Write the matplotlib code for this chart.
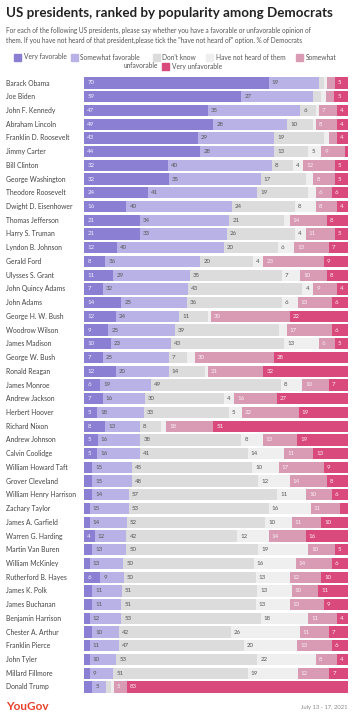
import numpy as np
import matplotlib
matplotlib.use("Agg")
import matplotlib.pyplot as plt
from matplotlib.patches import Rectangle

plt.rcParams['font.family'] = ['Lato', 'DejaVu Sans']

# data: % of Democrats
presidents = [
    "Barack Obama", "Joe Biden", "John F. Kennedy", "Abraham Lincoln",
    "Franklin D. Roosevelt", "Jimmy Carter", "Bill Clinton", "George Washington",
    "Theodore Roosevelt", "Dwight D. Eisenhower", "Thomas Jefferson", "Harry S. Truman",
    "Lyndon B. Johnson", "Gerald Ford", "Ulysses S. Grant", "John Quincy Adams",
    "John Adams", "George H. W. Bush", "Woodrow Wilson", "James Madison",
    "George W. Bush", "Ronald Reagan", "James Monroe", "Andrew Jackson",
    "Herbert Hoover", "Richard Nixon", "Andrew Johnson", "Calvin Coolidge",
    "William Howard Taft", "Grover Cleveland", "William Henry Harrison", "Zachary Taylor",
    "James A. Garfield", "Warren G. Harding", "Martin Van Buren", "William McKinley",
    "Rutherford B. Hayes", "James K. Polk", "James Buchanan", "Benjamin Harrison",
    "Chester A. Arthur", "Franklin Pierce", "John Tyler", "Millard Fillmore",
    "Donald Trump",
]
very_fav = [70, 59, 47, 49, 43, 44, 32, 32, 24, 16, 21, 21, 12, 8, 11, 7, 14, 12, 9, 10,
            7, 12, 6, 7, 5, 8, 5, 5, 3, 3, 3, 2, 2, 4, 3, 2, 6, 3, 3, 2, 3, 2, 2, 2, 3]
some_fav = [19, 27, 35, 28, 29, 28, 40, 35, 41, 40, 34, 33, 40, 36, 29, 32, 25, 24, 25, 23,
            25, 20, 19, 16, 18, 13, 16, 16, 15, 15, 14, 15, 14, 12, 13, 13, 9, 11, 11, 12,
            10, 11, 10, 9, 5]
dont_know = [2, 3, 6, 10, 19, 13, 8, 17, 19, 24, 21, 26, 20, 20, 35, 43, 36, 11, 39, 43,
             7, 14, 49, 30, 33, 8, 38, 41, 45, 48, 57, 53, 52, 42, 50, 50, 50, 51, 51, 53,
             42, 47, 53, 51, 2]
not_heard = [1, 2, 1, 1, 2, 5, 4, 3, 3, 8, 2, 4, 6, 4, 7, 4, 6, 1, 3, 13,
             3, 1, 8, 4, 5, 2, 8, 14, 10, 12, 11, 16, 10, 12, 19, 16, 13, 13, 13, 18,
             26, 20, 22, 19, 1]
some_unfav = [3, 3, 7, 8, 3, 9, 12, 8, 6, 8, 14, 11, 13, 23, 10, 9, 13, 30, 17, 6,
              30, 21, 10, 16, 22, 18, 13, 11, 17, 14, 10, 11, 11, 14, 10, 14, 12, 10, 13, 11,
              11, 13, 8, 12, 5]
very_unfav = [5, 5, 4, 4, 4, 1, 5, 5, 6, 4, 8, 5, 7, 9, 8, 4, 6, 22, 6, 5,
              28, 32, 7, 27, 19, 51, 19, 13, 9, 8, 6, 3, 10, 16, 5, 6, 10, 11, 9, 4,
              7, 6, 4, 7, 83]

series = ["Very favorable", "Somewhat favorable", "Don't know",
          "Have not heard of them", "Somewhat unfavorable", "Very unfavorable"]
colors = ["#8a7fd2", "#b9b2e6", "#dcdcdc", "#efefef", "#d89bb3", "#d9497b"]
label_colors = ["#f2f0ff", "#555555", "#555555", "#555555", "#fbeef3", "#fdeef3"]

W, H = 354, 720
fig = plt.figure(figsize=(W / 100, H / 100), dpi=100)

def fx(px):
    return px / W

def fy(py):
    return 1 - py / H

vals = np.array([very_fav, some_fav, dont_know, not_heard, some_unfav, very_unfav], dtype=float).T
shares = vals / vals.sum(axis=1, keepdims=True) * 100

# bars area
row_gap = (687 - 83) / (len(presidents) - 1)
ax_top, ax_bot = 83 - row_gap / 2, 687 + row_gap / 2
ax = fig.add_axes([fx(84.3), fy(ax_bot), fx(347.7 - 84.3), (ax_bot - ax_top) / H])
y = np.arange(len(presidents))
left = np.zeros(len(presidents))
for j, name in enumerate(series):
    ax.barh(y, shares[:, j], left=left, height=0.82, color=colors[j], linewidth=0)
    for i in range(len(presidents)):
        v = vals[i, j]
        if v >= 4:
            ax.annotate(f"{int(v)}", (left[i], y[i]), xytext=(2.2, 0), textcoords="offset points",
                        ha="left", va="center", fontsize=4.4, color=label_colors[j])
    left += shares[:, j]
ax.set_xlim(0, 100)
ax.set_ylim(len(presidents) - 0.5, -0.5)
ax.axis("off")

for i, name in enumerate(presidents):
    fig.text(fx(6.5), fy(83 + i * row_gap), name, ha="left", va="center",
             fontsize=4.9, color="#444444")

# header
fig.text(fx(6), fy(13), "US presidents, ranked by popularity among Democrats",
         fontsize=9.6, fontweight="bold", color="#222222", va="center", ha="left")
fig.text(fx(6), fy(30.5), "For each of the following US presidents, please say whether you have a "
         "favorable or unfavorable opinion of", fontsize=4.7, color="#555555", va="center")
fig.text(fx(6), fy(40.5), "them. If you have not heard of that president,please tick the "
         "\"have not heard of\" option. % of Democrats", fontsize=4.7, color="#555555", va="center")

# legend (wrapped, centred)
leg_items = [(0, 14, 57, "Very favorable"), (1, 71, 57, "Somewhat favorable"),
             (2, 153, 57, "Don't know"), (3, 206, 57, "Have not heard of them"),
             (4, 296, 57, "Somewhat"), (5, 162, 66, "Very unfavorable")]
for j, px, py, txt in leg_items:
    fig.patches.append(Rectangle((fx(px), fy(py + 3.5)), fx(7), 7 / H, color=colors[j],
                                 transform=fig.transFigure, figure=fig))
    fig.text(fx(px + 9.5), fy(py), txt, fontsize=4.8, color="#555555", va="center")
fig.text(fx(158), fy(66), "unfavorable", fontsize=4.8, color="#555555", va="center", ha="right")

# footer
fig.text(fx(6), fy(707), "YouGov", fontsize=8.5, fontweight="bold", color="#e8412c", va="center")
fig.text(fx(347.5), fy(708), "July 13 - 17, 2021", fontsize=4.2, color="#888888",
         va="center", ha="right")

fig.savefig("out.png", dpi=100, facecolor="white")
